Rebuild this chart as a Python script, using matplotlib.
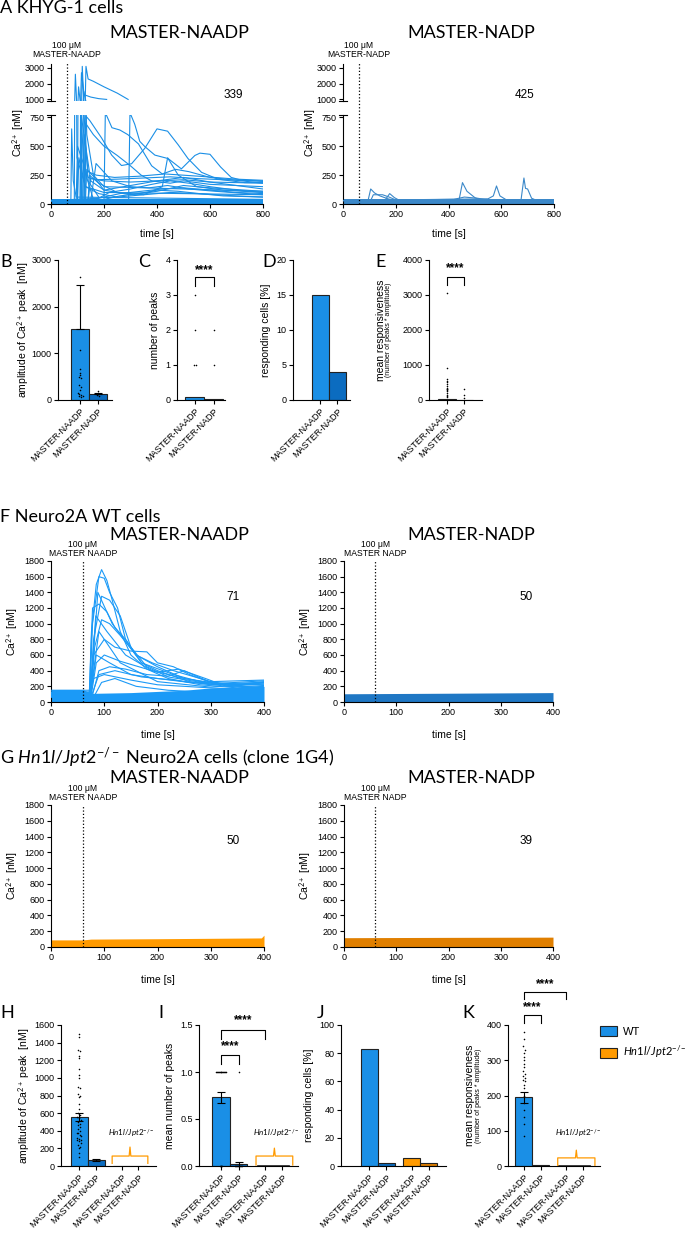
import numpy as np
import matplotlib.pyplot as plt
from matplotlib.patches import Patch
from matplotlib.transforms import blended_transform_factory

plt.rcParams['font.family'] = ['Liberation Sans', 'DejaVu Sans']
plt.rcParams['mathtext.fontset'] = 'custom'
plt.rcParams['mathtext.rm'] = 'Lato'
plt.rcParams['mathtext.it'] = 'Lato:italic'
TITLE_FONT = ['Lato', 'DejaVu Sans']

# ---------------- data ----------------
# A: KHYG-1 traces (time [s], Ca2+ [nM]); a few representative cells
A_naadp_traces = [
    ([0, 128, 132, 140, 160, 200, 250, 291], [30, 30, 3100, 2300, 2150, 1800, 1400, 1000]),
    ([0, 110, 115, 125, 150, 180, 210], [30, 30, 2700, 1300, 1150, 1050, 1000]),
    ([0, 88, 92, 98, 130, 200, 800], [30, 30, 2600, 400, 150, 100, 80]),
    ([0, 100, 104, 110, 125, 160], [30, 30, 1800, 900, 300, 40]),
    ([0, 115, 118, 124, 140, 180], [30, 30, 3100, 800, 200, 60]),
    ([0, 75, 78, 84, 95, 800], [30, 30, 650, 200, 60, 40]),
    ([0, 120, 124, 135, 160, 200, 800], [30, 30, 1500, 600, 250, 150, 110]),
    ([0, 128, 132, 147, 191, 229, 266, 304, 354, 400, 440, 480, 517, 568, 631, 731, 800],
     [30, 30, 760, 720, 571, 423, 333, 348, 482, 650, 630, 512, 393, 274, 214, 185, 185]),
    ([0, 293, 298, 316, 335, 354, 392, 442, 492, 543, 562, 600, 640, 680, 720, 800],
     [30, 30, 790, 690, 542, 497, 423, 393, 304, 420, 440, 430, 320, 230, 205, 195]),
    ([0, 200, 205, 230, 260, 290, 330, 380, 420, 470, 520, 600, 800],
     [30, 30, 790, 660, 640, 600, 520, 330, 260, 300, 280, 230, 180]),
    ([0, 125, 130, 160, 200, 250, 300, 340, 380, 450, 500, 600, 800],
     [30, 30, 700, 600, 500, 420, 330, 250, 200, 180, 200, 170, 150]),
    ([0, 95, 100, 140, 170, 250, 350, 450, 550, 650, 800],
     [30, 30, 500, 230, 210, 215, 225, 235, 220, 210, 200]),
    ([0, 130, 135, 160, 200, 300, 400, 500, 600, 700, 800],
     [30, 30, 300, 240, 120, 160, 200, 230, 190, 160, 130]),
    ([0, 140, 145, 180, 250, 350, 420, 440, 480, 550, 650, 800],
     [30, 30, 250, 180, 100, 80, 150, 400, 250, 150, 120, 100]),
    ([0, 160, 200, 260, 340, 420, 500, 600, 700, 800], [30, 40, 60, 90, 110, 130, 140, 120, 100, 90]),
    ([0, 100, 105, 130, 180, 250, 350, 450, 550, 700, 800], [30, 30, 400, 150, 90, 60, 80, 100, 90, 70, 60]),
    ([0, 110, 115, 150, 200, 300, 400, 500, 600, 800], [30, 30, 750, 200, 120, 80, 110, 160, 140, 110]),
    ([0, 140, 150, 200, 300, 400, 500, 600, 700, 800], [30, 30, 220, 200, 190, 200, 210, 190, 185, 180]),
    ([0, 180, 220, 300, 380, 450, 520, 600, 700, 800], [30, 50, 100, 130, 170, 200, 180, 150, 120, 100]),
    ([0, 150, 170, 230, 300, 370, 440, 520, 620, 800], [30, 30, 350, 200, 150, 140, 160, 130, 110, 80]),
    ([0, 120, 125, 140, 170, 240, 330, 430, 560, 700, 800],
     [30, 30, 600, 280, 250, 230, 240, 260, 240, 215, 205]),
    ([0, 200, 260, 330, 400, 480, 560, 650, 800], [30, 40, 70, 90, 120, 110, 90, 70, 60]),
]
A_naadp_band_t = [0, 800]
A_naadp_band_hi = [42, 42]

A_nadp_traces = [
    ([0, 95, 105, 120, 140, 170, 200], [30, 30, 130, 95, 70, 45, 30]),
    ([0, 105, 115, 150, 175, 200], [30, 30, 80, 80, 60, 35]),
    ([0, 160, 177, 195, 215], [30, 35, 90, 55, 30]),
    ([0, 440, 453, 470, 500, 520], [30, 35, 185, 110, 55, 35]),
    ([0, 550, 570, 582, 595, 620], [30, 45, 70, 156, 70, 35]),
    ([0, 675, 686, 692, 700, 715, 730], [30, 35, 225, 135, 130, 50, 35]),
    ([0, 420, 460, 510, 560], [30, 40, 60, 50, 30]),
]
A_nadp_band_t = [0, 800]
A_nadp_band_hi = [45, 45]

# F: Neuro2A WT traces
F_naadp_traces = [
    ([0, 72, 76, 85, 95, 105, 115, 130, 150, 180, 220, 280, 350, 400],
     [120, 120, 900, 1500, 1690, 1550, 1300, 900, 600, 420, 300, 220, 180, 200]),
    ([0, 73, 78, 90, 100, 110, 125, 140, 170, 200, 260, 330, 400],
     [100, 100, 1000, 1600, 1580, 1400, 1200, 800, 500, 400, 260, 200, 230]),
    ([0, 74, 80, 95, 110, 130, 150, 180, 220, 300, 400],
     [110, 110, 800, 1350, 1300, 1100, 700, 450, 320, 230, 250]),
    ([0, 72, 78, 90, 105, 120, 140, 160, 200, 250, 330, 400],
     [90, 90, 1200, 1250, 1150, 950, 800, 600, 450, 300, 220, 240]),
    ([0, 75, 82, 95, 110, 130, 160, 190, 230, 300, 400],
     [80, 80, 700, 1050, 1000, 850, 600, 500, 400, 260, 280]),
    ([0, 73, 80, 100, 120, 150, 180, 200, 230, 260, 300, 400],
     [120, 120, 600, 800, 700, 650, 640, 500, 450, 350, 250, 210]),
    ([0, 76, 85, 100, 130, 160, 200, 240, 290, 330, 400],
     [100, 100, 500, 600, 520, 460, 380, 420, 300, 200, 180]),
    ([0, 78, 90, 110, 140, 180, 220, 250, 300, 400],
     [90, 90, 400, 450, 420, 350, 330, 400, 250, 170]),
    ([0, 72, 80, 100, 150, 200, 300, 400], [130, 130, 300, 350, 280, 220, 180, 150]),
    ([0, 80, 95, 120, 160, 220, 300, 400], [60, 60, 250, 300, 200, 150, 120, 100]),
    ([0, 75, 90, 130, 200, 300, 400], [150, 150, 900, 500, 260, 190, 250]),
    ([0, 74, 88, 115, 170, 230, 280, 350, 400], [70, 70, 1400, 1000, 500, 350, 260, 200, 190]),
    ([0, 75, 85, 110, 150, 200, 260, 320, 400], [100, 100, 600, 500, 350, 300, 250, 240, 270]),
    ([0, 76, 90, 120, 170, 230, 300, 360, 400], [80, 80, 350, 400, 320, 280, 220, 230, 260]),
    ([0, 74, 84, 105, 140, 190, 250, 310, 400], [110, 110, 1100, 900, 600, 400, 300, 230, 220]),
]
F_naadp_band_t = [0, 60, 75, 150, 250, 300, 400]
F_naadp_band_hi = [160, 160, 110, 120, 150, 180, 200]
F_nadp_band_t = [0, 200, 400]
F_nadp_band_hi = [105, 112, 120]

# G: Hn1l/Jpt2-/- traces (flat)
G_naadp_band_t = [0, 60, 75, 200, 395, 400]
G_naadp_band_hi = [90, 90, 100, 105, 115, 150]
G_nadp_band_t = [0, 200, 400]
G_nadp_band_hi = [118, 122, 125]

# B-E: KHYG-1 summary
cat2 = ['MASTER-NAADP', 'MASTER-NADP']
B_mean = [1530, 120]
B_sd_up = [930, 40]
B_pts_naadp = [2630, 1080, 660, 580, 530, 500, 480, 320, 280, 220, 150, 120, 100, 90, 80, 70]
B_pts_nadp = [190, 150, 120, 100, 80]
C_mean = [0.08, 0.02]
C_pts_naadp = [3, 2, 1, 1]
C_pts_nadp = [2, 1]
D_resp = [15, 4]
E_mean = [30, 5]
E_pts_naadp = [3050, 900, 600, 550, 500, 450, 400, 350, 320, 300, 280, 250, 200, 150, 100, 80]
E_pts_nadp = [300, 150, 60]

# H-K: Neuro2A WT vs Hn1l/Jpt2-/-
cat4 = ['MASTER-NAADP', 'MASTER-NADP', 'MASTER-NAADP', 'MASTER-NADP']
H_mean = [555, 70, 0, 0]
H_sem = [50, 8, 0, 0]
H_pts_naadp = [1500, 1460, 1320, 1300, 1250, 1220, 1100, 1030, 1000, 900, 880, 820, 800, 780, 700,
               650, 600, 580, 560, 540, 520, 500, 480, 460, 440, 420, 400, 380, 370, 350, 340, 320,
               310, 300, 290, 280, 260, 240, 220, 200, 150, 100]
I_mean = [0.73, 0.02, 0, 0]
I_sem = [0.055, 0.02, 0, 0]
I_pts_naadp = [1] * 12 + [0] * 4
I_pts_nadp = [1] + [0] * 8
J_resp = [83, 2, 6, 2]
K_mean = [195, 2, 0, 0]
K_sem = [15, 0, 0, 0]
K_pts_naadp = [380, 360, 340, 330, 320, 310, 300, 290, 280, 270, 260, 255, 250, 245, 240, 230,
               220, 200, 180, 160, 140, 120, 85]

BLUE = '#1a8fe6'
BLUE_D = '#0b6cc0'
BLUE_NADP = '#3b88c9'
BLUE_F = '#1b9af7'
BLUE_F2 = '#1f77c4'
ORANGE = '#ff9a00'
ORANGE_D = '#e07f00'
EDGE = '#222222'
TICK_FS = 6.5
LAB_FS = 7.5

W, H = 685, 1236
fig = plt.figure(figsize=(W / 100, H / 100), dpi=100)


def add_ax(l, t, r, b):
    return fig.add_axes([l / W, 1 - b / H, (r - l) / W, (b - t) / H])


def style(ax):
    for s in ['top', 'right']:
        ax.spines[s].set_visible(False)
    for s in ['left', 'bottom']:
        ax.spines[s].set_linewidth(0.8)
    ax.tick_params(labelsize=TICK_FS, width=0.8, length=3, pad=1.5)


def ftext(x, y, s, **kw):
    fig.text(x / W, 1 - y / H, s, **kw)


def stim_marker(ax, y_top, y_txt, name):
    tr = blended_transform_factory(ax.transData, fig.transFigure)
    y0 = ax.get_position().y0
    ax.plot([60, 60], [y0, 1 - y_top / H], transform=tr, color='k', ls=':', lw=0.9,
            clip_on=False, zorder=5)
    ax.text(60, 1 - y_txt / H, '100 μM\n' + name, transform=tr, ha='center', va='bottom',
            fontsize=6.2, linespacing=1.0)


def draw_traces(ax, traces, color, band_t, band_hi, lw=0.8):
    ax.fill_between(band_t, 0, band_hi, color=color, lw=0, zorder=2)
    for t, c in traces:
        ax.plot(t, c, color=color, lw=lw, zorder=3)


# ---------------- A ----------------
ftext(0, 8, 'A KHYG-1 cells', fontsize=13, va='center', family=TITLE_FONT)
for (l, r, traces, color, bt, bh, num, name, title, tx) in [
        (51, 263, A_naadp_traces, BLUE, A_naadp_band_t, A_naadp_band_hi, '339', 'MASTER-NAADP', 'MASTER-NAADP', 179),
        (343, 554, A_nadp_traces, BLUE_NADP, A_nadp_band_t, A_nadp_band_hi, '425', 'MASTER-NADP', 'MASTER-NADP', 471)]:
    ftext(tx, 33, title, fontsize=13, ha='center', va='center', family=TITLE_FONT)
    up = add_ax(l, 64, r, 101)
    lo = add_ax(l, 115, r, 204)
    for ax in (up, lo):
        style(ax)
        draw_traces(ax, traces, color, bt, bh)
        ax.set_xlim(0, 800)
    up.set_ylim(900, 3250)
    up.set_yticks([1000, 2000, 3000])
    up.spines['bottom'].set_visible(False)
    up.set_xticks([])
    lo.set_ylim(0, 770)
    lo.set_yticks([0, 250, 500, 750])
    lo.set_xticks([0, 200, 400, 600, 800])
    lo.set_xlabel('time [s]', fontsize=LAB_FS, labelpad=7)
    lo.set_ylabel('Ca$^{2+}$ [nM]', fontsize=LAB_FS, labelpad=2)
    lo.yaxis.set_label_coords(-0.115, 0.8)
    up.plot([-0.02, 0.02], [0, 0], transform=up.transAxes, color='k', lw=0.8, clip_on=False)
    lo.plot([-0.02, 0.02], [1, 1], transform=lo.transAxes, color='k', lw=0.8, clip_on=False)
    stim_marker(lo, 62, 59, name)
    ftext(l + 182, 95, num, fontsize=8.5, ha='center', va='center')


# ---------------- bar helpers ----------------
def spread(vals, binsize, step=0.09):
    vals = np.asarray(vals, float)
    keys = np.round(vals / binsize)
    off = np.zeros(len(vals))
    for k in np.unique(keys):
        idx = np.where(keys == k)[0]
        off[idx] = (np.arange(len(idx)) - (len(idx) - 1) / 2) * step
    return off


def bar_panel(l, r, t, b, pos, xlim, vals, colors, ylim, yticks, labels):
    ax = add_ax(l, t, r, b)
    style(ax)
    ax.bar(pos, vals, width=1.0, color=colors, edgecolor=EDGE, linewidth=0.8, zorder=2)
    ax.set_xlim(*xlim)
    ax.set_ylim(*ylim)
    ax.set_yticks(yticks)
    ax.set_xticks(pos)
    ax.set_xticklabels(labels, rotation=45, ha='right', rotation_mode='anchor', fontsize=TICK_FS)
    return ax


def dots(ax, x, vals, binsize, step=0.09):
    vals = np.asarray(vals, float)
    ax.scatter(x + spread(vals, binsize, step), vals, s=1.3, color='k', lw=0, zorder=4, clip_on=False)


def bracket(ax, x1, x2, ytop, ybot, ytxt):
    ax.plot([x1, x1, x2, x2], [ybot, ytop, ytop, ybot], color='k', lw=0.8, clip_on=False)
    ax.text((x1 + x2) / 2, ytxt, '****', ha='center', va='center', fontsize=8.5, fontweight='bold',
            clip_on=False)


def letter(x, y, s):
    ftext(x, y, s, fontsize=13, va='center', family=TITLE_FONT)


def two_line_ylabel(ax, dx1, dx2, big, small):
    w = ax.get_position().width * W
    ax.text(-dx1 / w, 0.5, big, transform=ax.transAxes, rotation=90, ha='center', va='center', fontsize=LAB_FS)
    ax.text(-dx2 / w, 0.5, small, transform=ax.transAxes, rotation=90, ha='center', va='center', fontsize=5)


# ---------------- B-E ----------------
p2 = [0, 1]
axB = bar_panel(58, 112, 260, 400, p2, (-1.25, 1.8), B_mean, [BLUE, BLUE_D], (0, 3000), [0, 1000, 2000, 3000], cat2)
axB.errorbar(p2, B_mean, yerr=[[0, 0], B_sd_up], fmt='none', ecolor='k', elinewidth=0.8, capsize=3, capthick=0.8, zorder=3)
dots(axB, 0, B_pts_naadp, 60)
dots(axB, 1, B_pts_nadp, 40)
axB.set_ylabel('amplitude of Ca$^{2+}$ peak  [nM]', fontsize=LAB_FS, labelpad=0)
letter(0, 262, 'B')

axC = bar_panel(177, 225, 260, 400, p2, (-0.95, 1.6), C_mean, [BLUE, BLUE_D], (0, 4), [0, 1, 2, 3, 4], cat2)
dots(axC, 0, C_pts_naadp, 0.5)
dots(axC, 1, C_pts_nadp, 0.5)
bracket(axC, 0, 1, 3.5, 3.25, 3.72)
axC.set_ylabel('number of peaks', fontsize=LAB_FS, labelpad=4)
letter(138, 262, 'C')

axD = bar_panel(293, 350, 260, 400, p2, (-1.6, 1.75), D_resp, [BLUE, BLUE_D], (0, 20), [0, 5, 10, 15, 20], cat2)
axD.set_ylabel('responding cells [%]', fontsize=LAB_FS, labelpad=4)
letter(262, 262, 'D')

axE = bar_panel(429, 482, 260, 400, p2, (-1.05, 2.05), E_mean, [BLUE, BLUE_D], (0, 4000), [0, 1000, 2000, 3000, 4000], cat2)
dots(axE, 0, E_pts_naadp, 25, 0.05)
dots(axE, 1, E_pts_nadp, 25, 0.05)
bracket(axE, 0, 1, 3510, 3290, 3760)
two_line_ylabel(axE, 48, 40, 'mean responsiveness', '(number of peaks * amplitude)')
letter(375, 262, 'E')


# ---------------- F / G ----------------
def trace_panel(l, r, t, b, traces, color, bt, bh, num, name):
    ax = add_ax(l, t, r, b)
    style(ax)
    draw_traces(ax, traces, color, bt, bh)
    ax.set_xlim(0, 400)
    ax.set_ylim(0, 1800)
    ax.set_yticks(range(0, 1801, 200))
    ax.set_xticks([0, 100, 200, 300, 400])
    ax.set_xlabel('time [s]', fontsize=LAB_FS, labelpad=9)
    ax.set_ylabel('Ca$^{2+}$ [nM]', fontsize=LAB_FS)
    ax.yaxis.set_label_coords(-30 / (r - l), 0.5)
    stim_marker(ax, t, t - 3, name)
    ftext(l + 182, t + 36, num, fontsize=8.5, ha='center', va='center')
    return ax


ftext(0, 517, 'F Neuro2A WT cells', fontsize=13, va='center', family=TITLE_FONT)
ftext(179, 535, 'MASTER-NAADP', fontsize=13, ha='center', va='center', family=TITLE_FONT)
ftext(471, 535, 'MASTER-NADP', fontsize=13, ha='center', va='center', family=TITLE_FONT)
trace_panel(51, 264, 561, 702, F_naadp_traces, BLUE_F, F_naadp_band_t, F_naadp_band_hi, '71', 'MASTER NAADP')
trace_panel(344, 553, 561, 702, [], BLUE_F2, F_nadp_band_t, F_nadp_band_hi, '50', 'MASTER NADP')

ftext(0, 758, r'G $\mathit{Hn1l/Jpt2}^{-/-}$ Neuro2A cells (clone 1G4)', fontsize=13, va='center', family=TITLE_FONT)
ftext(179, 778, 'MASTER-NAADP', fontsize=13, ha='center', va='center', family=TITLE_FONT)
ftext(471, 778, 'MASTER-NADP', fontsize=13, ha='center', va='center', family=TITLE_FONT)
trace_panel(51, 264, 805, 947, [], ORANGE, G_naadp_band_t, G_naadp_band_hi, '50', 'MASTER NAADP')
trace_panel(344, 553, 805, 947, [], ORANGE_D, G_nadp_band_t, G_nadp_band_hi, '39', 'MASTER NADP')


# ---------------- H-K ----------------
def brace(ax, x1, x2, ylo, ymid, ytip, label, ylab):
    xm = (x1 + x2) / 2
    ax.plot([x1, x1, xm - 0.05, xm, xm + 0.05, x2, x2], [ylo, ymid, ymid, ytip, ymid, ymid, ylo],
            color=ORANGE, lw=0.9, zorder=3)
    ax.text(xm + 0.1, ylab, label, ha='center', va='center', fontsize=5.8)


KO = r'$\mathit{Hn1l/Jpt2}^{-/-}$'
p4 = [0, 1, 2.5, 3.5]
c4 = [BLUE, BLUE_D, ORANGE, ORANGE_D]

axH = bar_panel(61, 156, 1025, 1166, p4, (-1.06, 4.53), H_mean, c4, (0, 1600), range(0, 1601, 200), cat4)
axH.errorbar(p4[:2], H_mean[:2], yerr=H_sem[:2], fmt='none', ecolor='k', elinewidth=0.8, capsize=3, capthick=0.8, zorder=3)
dots(axH, 0, H_pts_naadp, 45, 0.09)
brace(axH, 1.95, 4.05, 30, 113, 215, KO, 375)
axH.set_ylabel('amplitude of Ca$^{2+}$ peak  [nM]', fontsize=LAB_FS, labelpad=1)
letter(0, 1013, 'H')

axI = bar_panel(199, 298, 1025, 1166, p4, (-1.26, 4.4), I_mean, c4, (0, 1.5), [0.0, 0.5, 1.0, 1.5], cat4)
axI.set_yticklabels(['0.0', '0.5', '1.0', '1.5'])
axI.errorbar(p4[:2], I_mean[:2], yerr=I_sem[:2], fmt='none', ecolor='k', elinewidth=0.8, capsize=3, capthick=0.8, zorder=3)
dots(axI, 0, I_pts_naadp, 0.2, 0.05)
dots(axI, 1, I_pts_nadp, 0.2, 0.05)
axI.plot([p4[2] - 0.4, p4[3] + 0.4], [0, 0], color=EDGE, lw=1.2, zorder=3)
bracket(axI, 0, 1, 1.18, 1.09, 1.28)
bracket(axI, 0, 2.5, 1.45, 1.35, 1.55)
brace(axI, 2.0, 4.1, 0.01, 0.106, 0.19, KO, 0.35)
axI.set_ylabel('mean number of peaks', fontsize=LAB_FS, labelpad=4)
letter(158, 1013, 'I')

axJ = bar_panel(341, 446, 1025, 1166, p4, (-1.65, 4.5), J_resp, c4, (0, 100), range(0, 101, 20), cat4)
axJ.set_ylabel('responding cells [%]', fontsize=LAB_FS, labelpad=4)
letter(317, 1013, 'J')

axK = bar_panel(508, 600, 1025, 1166, p4, (-0.94, 4.5), K_mean, c4, (0, 400), [0, 100, 200, 300, 400], cat4)
axK.errorbar(p4[:1], K_mean[:1], yerr=K_sem[:1], fmt='none', ecolor='k', elinewidth=0.8, capsize=3, capthick=0.8, zorder=3)
dots(axK, 0, K_pts_naadp, 12, 0.08)
axK.plot([p4[2] - 0.4, p4[3] + 0.4], [1, 1], color=EDGE, lw=1.2, zorder=3)
bracket(axK, 0, 1, 428, 405, 450)
bracket(axK, 0, 2.5, 494, 474, 516)
brace(axK, 2.0, 4.2, 0, 23, 45, KO, 94)
two_line_ylabel(axK, 38, 30, 'mean responsiveness', '(number of peaks * amplitude)')
letter(462, 1013, 'K')

fig.legend(handles=[Patch(facecolor=BLUE, edgecolor=EDGE, lw=0.8, label='WT'),
                    Patch(facecolor=ORANGE, edgecolor=EDGE, lw=0.8, label=KO)],
           loc='upper left', bbox_to_anchor=(596 / W, 1 - 1022 / H), frameon=False, fontsize=8,
           handlelength=1.5, handleheight=1.0, handletextpad=0.5, labelspacing=0.6, borderaxespad=0)

fig.savefig('out.png', dpi=100)
